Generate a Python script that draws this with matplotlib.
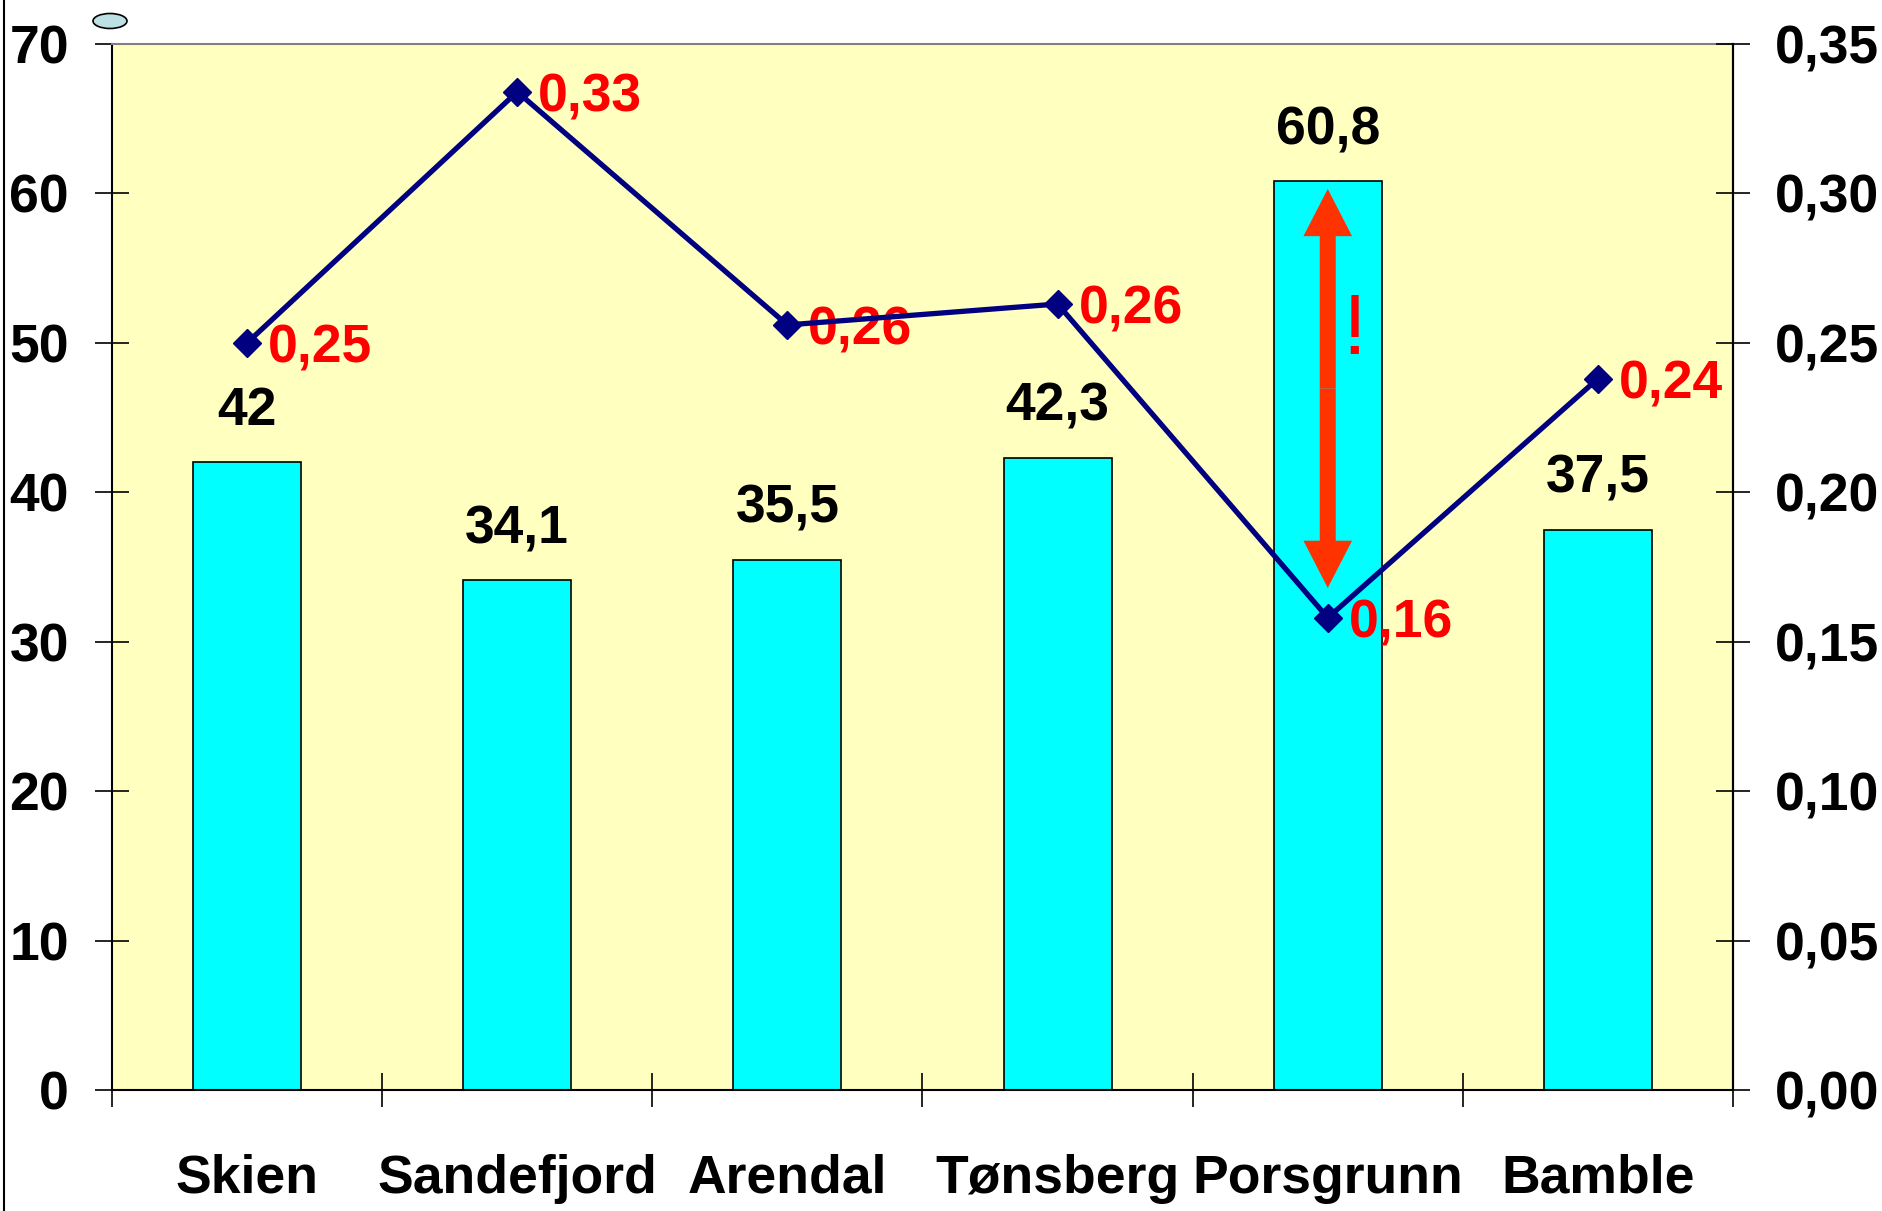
import matplotlib
matplotlib.use("Agg")
import matplotlib.pyplot as plt
from matplotlib.patches import Ellipse
from matplotlib.lines import Line2D
from matplotlib.ticker import FuncFormatter

cities = ["Skien", "Sandefjord", "Arendal", "Tønsberg", "Porsgrunn", "Bamble"]
bar_values = [42, 34.1, 35.5, 42.3, 60.8, 37.5]
line_values = [0.25, 0.334, 0.256, 0.263, 0.158, 0.238]
line_labels = ["0,25", "0,33", "0,26", "0,26", "0,16", "0,24"]


def comma(value, decimals):
	return f"{value:.{decimals}f}".replace(".", ",")


plt.rcParams["font.family"] = ["Liberation Sans", "DejaVu Sans"]
plt.rcParams["font.weight"] = "bold"

W, H = 1883, 1211
fig = plt.figure(figsize=(W / 100, H / 100), dpi=100)
ax = fig.add_axes([112 / W, 1 - 1090 / H, (1733 - 112) / W, (1090 - 44) / H])
ax.set_facecolor("#FFFFC0")

x = list(range(len(cities)))
ax.bar(x, bar_values, width=0.4, color="#00FFFF", edgecolor="black", linewidth=1.2, zorder=2)
for xi, v in zip(x, bar_values):
	ax.annotate(comma(v, 1) if v % 1 else str(int(v)), (xi, v), xytext=(0, 37),
				textcoords="offset points", ha="center", va="center",
				fontsize=38.5, fontweight="bold", color="black")

ax.set_xlim(-0.5, len(cities) - 0.5)
ax.set_ylim(0, 70)
ax.set_yticks(range(0, 71, 10))
ax.set_xticks([i - 0.5 for i in range(len(cities) + 1)])
ax.set_xticklabels([])
ax.set_xticks(x, minor=True)
ax.set_xticklabels(cities, minor=True, fontsize=38.5, fontweight="bold")
ax.tick_params(axis="x", which="major", direction="inout", length=25, width=1.2)
ax.tick_params(axis="x", which="minor", length=0, pad=46)
ax.tick_params(axis="y", direction="inout", length=24, width=1.2, pad=19, labelsize=38.5)
for s in ["left", "bottom", "right"]:
	ax.spines[s].set_linewidth(1.5)
ax.spines["top"].set_color("#808080")
ax.spines["top"].set_linewidth(1.5)

ax2 = ax.twinx()
ax2.set_ylim(0, 0.35)
ax2.set_yticks([i * 0.05 for i in range(8)])
ax2.yaxis.set_major_formatter(FuncFormatter(lambda v, _: comma(v, 2)))
ax2.tick_params(axis="y", direction="inout", length=24, width=1.2, pad=18, labelsize=38.5)
ax2.spines["right"].set_linewidth(1.5)
ax2.spines["top"].set_visible(False)
ax2.spines["left"].set_visible(False)
ax2.spines["bottom"].set_visible(False)

ax2.plot(x, line_values, color="#000080", linewidth=3.8, marker="D", markersize=14, zorder=5)
for xi, v, lab in zip(x, line_values, line_labels):
	ax2.annotate(lab, (xi, v), xytext=(15, -14), textcoords="offset points",
				 ha="left", va="baseline", fontsize=38.5, fontweight="bold", color="#FF0000")

# double arrow over Porsgrunn bar
arrow_x = cities.index("Porsgrunn")
arrow_top, arrow_bottom = 60.3, 33.6
mid = (arrow_top + arrow_bottom) / 2
style = "simple,head_length=34,head_width=35,tail_width=11.5"
for end in (arrow_top, arrow_bottom):
	ax.annotate("", xy=(arrow_x, end), xytext=(arrow_x, mid),
				arrowprops=dict(arrowstyle=style, mutation_scale=1, color="#FF3300",
								shrinkA=0, shrinkB=0, linewidth=0), zorder=4)
ax.annotate("!", (arrow_x, 50.7), xytext=(19, 0), textcoords="offset points",
			ha="center", va="center", fontsize=62, fontweight="normal", color="#FF0000")

fig.add_artist(Line2D([4 / W, 4 / W], [0, 1], transform=fig.transFigure, color="black", linewidth=1.5))
fig.add_artist(Ellipse((110 / W, 1 - 21 / H), 34 / W, 15 / H, transform=fig.transFigure,
					   facecolor="#BCE0E4", edgecolor="black", linewidth=1.2))

fig.savefig("out.png", dpi=100)
